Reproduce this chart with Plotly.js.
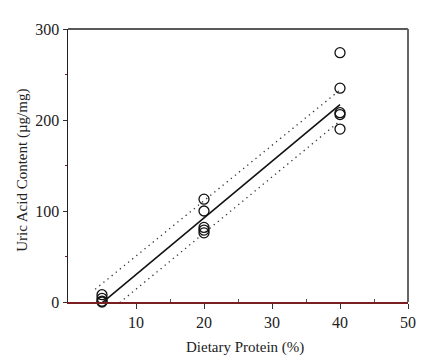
<!DOCTYPE html>
<html>
<head>
<meta charset="utf-8">
<script src="https://cdn.plot.ly/plotly-3.0.1.min.js"></script>
<style>html,body{margin:0;padding:0;background:#fff;}#chart{width:437px;height:364px;}</style>
</head>
<body>
<div id="chart"></div>
<script>
// Observed data points
const proteinX = [5, 5, 5, 5, 20, 20, 20, 20, 20, 40, 40, 40, 40, 40];
const uricY    = [8, 4, 1, 0, 113, 100, 82, 79, 76, 274, 235, 208, 206, 190];

// Regression line and confidence band endpoints
const fitX   = [5, 40];
const fitY   = [-1, 217];
const upperX = [4, 40];
const upperY = [14, 233];
const lowerX = [4, 40];
const lowerY = [-23, 199];

const xTicks = [10, 20, 30, 40, 50];
const yTicks = [0, 100, 200, 300];
const xTitle = 'Dietary Protein (%)';
const yTitle = 'Uric Acid Content (µg/mg)';

const fam = 'Liberation Serif, Times New Roman, serif';
const tickFont = {family: fam, size: 16, color: '#222'};
const titleFont = {family: fam, size: 15, color: '#222'};

const traces = [
  {x: upperX, y: upperY, mode: 'lines', line: {color: '#333', width: 1.3, dash: '1.3px,4px'}, hoverinfo: 'skip'},
  {x: lowerX, y: lowerY, mode: 'lines', line: {color: '#333', width: 1.3, dash: '1.3px,4px'}, hoverinfo: 'skip'},
  {x: fitX, y: fitY, mode: 'lines', line: {color: '#111', width: 1.6}},
  {x: proteinX, y: uricY, mode: 'markers', cliponaxis: false,
   marker: {symbol: 'circle-open', size: 10, color: '#111', line: {width: 1.3, color: '#111'}}}
];

const layout = {
  width: 437, height: 364,
  margin: {l: 68, r: 29, t: 29, b: 62},
  paper_bgcolor: '#fff', plot_bgcolor: '#fff',
  showlegend: false,
  font: tickFont,
  xaxis: {
    range: [0, 50], tickvals: xTicks, ticktext: xTicks.map(String),
    ticks: 'outside', ticklen: 5, tickwidth: 1, tickcolor: '#333',
    minor: {tickvals: [15, 25, 35, 45], ticks: 'inside', ticklen: 3, tickcolor: '#555'},
    showline: true, linecolor: '#7a1f1f', linewidth: 1.5,
    showgrid: false, zeroline: false,
    tickfont: tickFont
  },
  yaxis: {
    range: [0, 300], tickvals: yTicks, ticktext: yTicks.map(String),
    ticks: 'outside', ticklen: 4, tickwidth: 1, tickcolor: '#333',
    minor: {tickvals: [50, 150, 250], ticks: 'outside', ticklen: 2, tickcolor: '#7a1f1f'},
    showline: true, linecolor: '#222', linewidth: 1.5,
    showgrid: false, zeroline: false,
    tickfont: tickFont
  },
  annotations: [
    {text: xTitle, xref: 'paper', yref: 'paper', x: 0.52, y: -0.165, xanchor: 'center', yanchor: 'middle',
     showarrow: false, font: titleFont},
    {text: yTitle, xref: 'paper', yref: 'paper', x: -0.132, y: 0.481, xanchor: 'center', yanchor: 'middle',
     textangle: -90, showarrow: false, font: titleFont}
  ],
  shapes: [
    {type: 'line', xref: 'paper', yref: 'paper', x0: 0, x1: 1, y0: 1, y1: 1, line: {color: '#222', width: 1.5}},
    {type: 'line', xref: 'paper', yref: 'paper', x0: 1, x1: 1, y0: 0, y1: 1, line: {color: '#666', width: 2}}
  ]
};

Plotly.newPlot('chart', traces, layout, {displayModeBar: false, staticPlot: true});
</script>
</body>
</html>
